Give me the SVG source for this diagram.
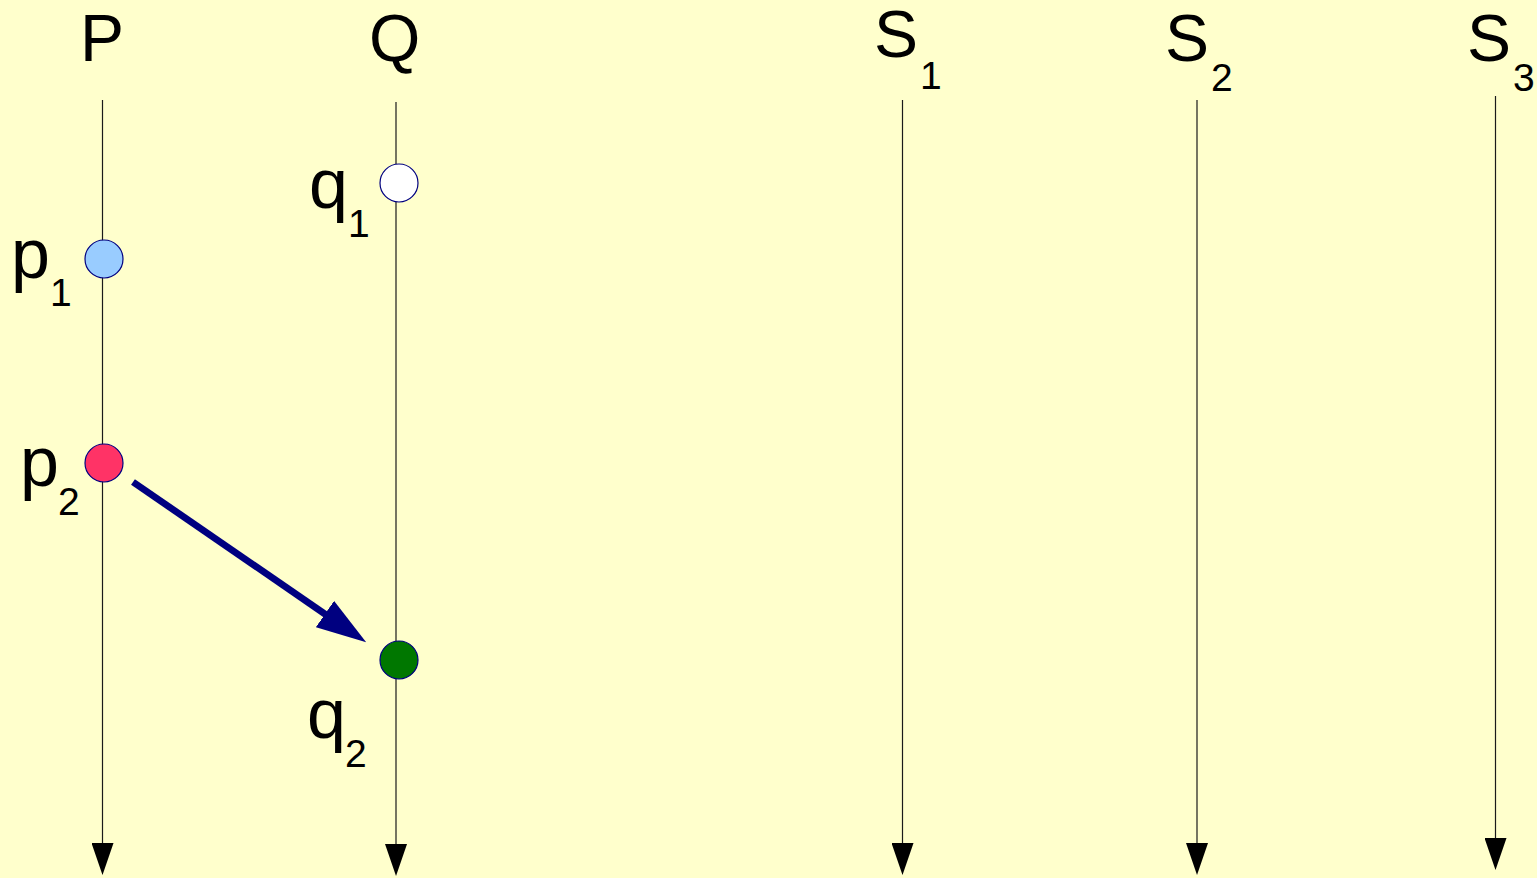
<svg xmlns="http://www.w3.org/2000/svg" width="1537" height="878" viewBox="0 0 1537 878">
<style>
.lane{stroke:#1a1a1a;stroke-width:1.2;fill:none}
.msg{stroke:#000080;stroke-width:6.8;fill:none}
.ev{stroke:#000080;stroke-width:1.2}
.big{font-family:"Liberation Sans",Arial,sans-serif;font-size:66px;fill:#000}
.low{font-family:"Liberation Sans",Arial,sans-serif;font-size:70px;fill:#000}
.sub{font-family:"Liberation Sans",Arial,sans-serif;font-size:39px;fill:#000}
</style>
<defs>
<marker id="ah" markerUnits="userSpaceOnUse" viewBox="0 0 32 22" markerWidth="32" markerHeight="22" refX="0" refY="11" orient="auto">
<path d="M0,0 L32,11 L0,22 z" fill="#000"/>
</marker>
<marker id="mh" markerUnits="userSpaceOnUse" viewBox="0 0 50 32" markerWidth="50" markerHeight="32" refX="1" refY="16" orient="auto">
<path d="M0,0 L50,16 L0,32 z" fill="#000080"/>
</marker>
</defs>
<rect width="1537" height="878" fill="#ffffcc"/>
<g id="connectors">
<line class="lane" x1="102.5" y1="100" x2="102.5" y2="843" marker-end="url(#ah)"/>
<line class="lane" x1="396" y1="102" x2="396" y2="844" marker-end="url(#ah)"/>
<line class="lane" x1="902.5" y1="100" x2="902.5" y2="843" marker-end="url(#ah)"/>
<line class="lane" x1="1197" y1="100" x2="1197" y2="843" marker-end="url(#ah)"/>
<line class="lane" x1="1495.5" y1="96" x2="1495.5" y2="838" marker-end="url(#ah)"/>
<line class="msg" x1="133" y1="482" x2="325.8" y2="614.6" marker-end="url(#mh)"/>
</g>
<g id="lane-P"><text class="big" x="80" y="61">P</text></g>
<g id="lane-Q"><text class="big" x="369" y="61">Q</text></g>
<g id="lane-S1"><text class="big" x="874" y="57">S</text><text class="sub" x="920" y="89">1</text></g>
<g id="lane-S2"><text class="big" x="1165" y="61">S</text><text class="sub" x="1211" y="91">2</text></g>
<g id="lane-S3"><text class="big" x="1467" y="61">S</text><text class="sub" x="1513" y="91">3</text></g>
<g id="p1"><circle class="ev" cx="104" cy="259" r="19" fill="#99ccff"/><text class="low" x="11" y="277.5">p</text><text class="sub" x="50" y="306">1</text></g>
<g id="q1"><circle class="ev" cx="399" cy="183" r="19" fill="#ffffff"/><text class="low" x="309" y="208">q</text><text class="sub" x="348" y="237">1</text></g>
<g id="p2"><circle class="ev" cx="104" cy="463" r="19" fill="#ff3366"/><text class="low" x="20" y="486">p</text><text class="sub" x="58" y="515">2</text></g>
<g id="q2"><circle class="ev" cx="399" cy="660" r="19" fill="#007700"/><text class="low" x="307" y="738">q</text><text class="sub" x="345" y="767">2</text></g>
</svg>
